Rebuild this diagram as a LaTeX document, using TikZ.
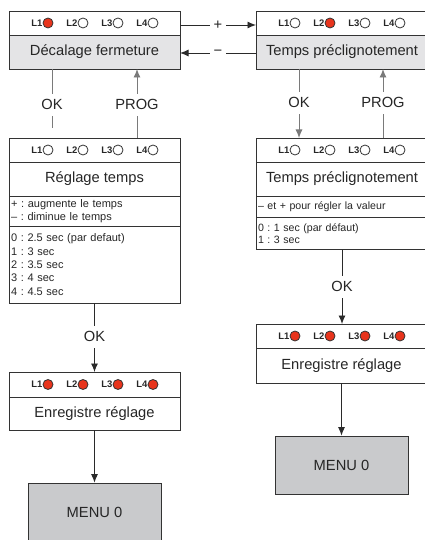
\documentclass[tikz,border=0pt]{standalone}
\usepackage{fontspec}
\setmainfont{Liberation Sans}
\usetikzlibrary{arrows.meta}
\frenchspacing
\definecolor{ledred}{HTML}{E8341C}
\definecolor{boxgray}{HTML}{E4E4E6}
\definecolor{menugray}{HTML}{C9CACC}
\definecolor{edgec}{HTML}{333333}
\definecolor{wire}{HTML}{7A7A7A}
\definecolor{wiredark}{HTML}{2A2A2A}
\newcommand\ledrow[7]{%
  \foreach \dx/\fc [count=\k] in {-52.5/#4,-17.5/#5,17.5/#6,52.5/#7} {
    \node[ledlbl, anchor=east] (#1l\k) at (#2+\dx+0.5, #3) {L\k};
    \node[ledc, fill=\fc] (#1c\k) at (#2+\dx+6, #3) {};
  }}
\begin{document}
\begin{tikzpicture}[x=1pt,y=-1pt,
  sec/.style={draw=edgec, line width=0.8pt, minimum width=171pt, inner sep=0pt, outer sep=0pt},
  title/.style={font=\fontsize{14.7}{17}\selectfont, text=black!85},
  small/.style={font=\fontsize{11}{13.4}\selectfont, text=black!85, align=left, text width=167pt, inner xsep=2pt},
  ledlbl/.style={font=\fontsize{9.5}{11}\selectfont\bfseries, inner sep=0pt, outer sep=0pt, text=black!85},
  ledc/.style={circle, draw=edgec, line width=0.8pt, minimum size=10pt, inner sep=0pt},
  menubox/.style={draw=edgec, line width=0.8pt, fill=menugray, minimum width=133pt, inner sep=0pt, font=\fontsize{14.7}{17}\selectfont, text=black!85},
  lbl/.style={fill=white, font=\fontsize{14.7}{17}\selectfont, text=black!85, inner xsep=1pt, inner ysep=6pt},
  hlbl/.style={fill=white, font=\fontsize{14.7}{17}\selectfont, text=black!85, inner xsep=4pt, inner ysep=1pt},
  wireg/.style={draw=wire, line width=0.9pt},
  wired/.style={draw=wiredark, line width=0.9pt},
  tip/.style={-{Latex[length=8.5pt,width=7pt]}}
]
\useasboundingbox (0,0) rectangle (425,540);
\clip (0,0) rectangle (425,540);

% ---------- left column ----------
\node[sec, minimum height=24pt] (lA1) at (94.5,23) {};
\node[sec, minimum height=34pt, fill=boxgray, title] (lA2) at (94.5,52) {Décalage fermeture};
\ledrow{lA}{94.5}{23}{ledred}{white}{white}{white}

\node[sec, minimum height=24pt] (lB1) at (94.5,150) {};
\node[sec, minimum height=34pt, title] (lB2) at (94.5,179) {Réglage temps};
\node[sec, minimum height=30pt, small] (lB3) at (94.5,211) {+ : augmente le temps\\– : diminue le temps};
\node[sec, minimum height=77pt, small] (lB4) at (94.5,264.5) {0 : 2.5 sec (par defaut)\\1 : 3 sec\\2 : 3.5 sec\\3 : 4 sec\\4 : 4.5 sec};
\ledrow{lB}{94.5}{150}{white}{white}{white}{white}

\node[sec, minimum height=25pt] (lC1) at (94.5,384.5) {};
\node[sec, minimum height=33pt, title] (lC2) at (94.5,413.5) {Enregistre réglage};
\ledrow{lC}{94.5}{384.5}{ledred}{ledred}{ledred}{ledred}

\node[menubox, minimum height=60pt] (lM) at (94.5,513) {};
\node[font=\fontsize{14.7}{17}\selectfont, text=black!85, inner sep=0pt] (lMt) at (94.5,512) {MENU 0};

% ---------- right column ----------
\node[sec, minimum height=24pt] (rA1) at (341.5,23) {};
\node[sec, minimum height=34pt, fill=boxgray, title] (rA2) at (341.5,52) {};
\node[title, inner sep=0pt] (rA2t) at (342,52) {Temps préclignotement};
\ledrow{rA}{341.5}{23}{white}{ledred}{white}{white}

\node[sec, minimum height=24pt] (rB1) at (341.5,150) {};
\node[sec, minimum height=34pt] (rB2) at (341.5,179) {};
\node[title, inner sep=0pt] (rB2t) at (342,179) {Temps préclignotement};
\node[sec, minimum height=21pt, small, font=\fontsize{10.6}{12}\selectfont] (rB3) at (341.5,206.5) {– et + pour régler la valeur};
\node[sec, minimum height=32pt, small, font=\fontsize{10.6}{12}\selectfont] (rB4) at (341.5,233.5) {0 : 1 sec (par défaut)\\1 : 3 sec};
\ledrow{rB}{341.5}{150}{white}{white}{white}{white}

\node[sec, minimum height=24pt] (rC1) at (341.5,336) {};
\node[sec, minimum height=35pt, title] (rC2) at (341.5,365.5) {Enregistre réglage};
\ledrow{rC}{341.5}{336}{ledred}{ledred}{ledred}{ledred}

\node[menubox, minimum height=58pt] (rM) at (341.5,465) {MENU 0};

% ---------- connectors ----------
\draw[wired, tip] ([yshift=-2pt]lA1.east) -- node[hlbl] (plus) {+} ([yshift=-2pt]rA1.west);
\draw[wired, tip] ([yshift=-1pt]rA2.west) -- node[hlbl] (minus) {−} ([yshift=-1pt]lA2.east);

\draw[wireg, shorten >=10pt] ([xshift=-42.5pt]lA2.south) -- node[lbl, pos=0.52] (okL1) {OK} ([xshift=-42.5pt]lB1.north);
\draw[wireg, tip] ([xshift=42.5pt]lB1.north) -- node[lbl, pos=0.48] (progL) {PROG} ([xshift=42.5pt]lA2.south);
\draw[wireg, tip] ([xshift=-42.5pt]rA2.south) -- node[lbl, pos=0.49] (okR1) {OK} ([xshift=-42.5pt]rB1.north);
\draw[wireg, tip] ([xshift=41.5pt]rB1.north) -- node[lbl, pos=0.51] (progR) {PROG} ([xshift=41.5pt]rA2.south);

\draw[wired, tip] (lB4.south) -- node[lbl, pos=0.49] (okL2) {OK} (lC1.north);
\draw[wired, tip] (lC2.south) -- (lM.north);
\draw[wired, tip] ([xshift=0.5pt]rB4.south) -- node[lbl, pos=0.5] (okR2) {OK} ([xshift=0.5pt]rC1.north);
\draw[wired, tip] (rC2.south) -- (rM.north);
\end{tikzpicture}
\end{document}
